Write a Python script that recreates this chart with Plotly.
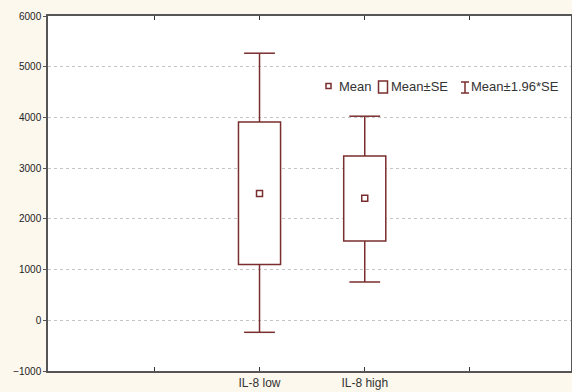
import plotly.graph_objects as go

# values
groups = ["IL-8 low", "IL-8 high"]
mean = [2500, 2405]
se_low = [1098, 1564]
se_high = [3911, 3241]
ci_low = [-237, 755]
ci_high = [5266, 4024]

categories = [" ", "IL-8 low", "IL-8 high", "  "]
y_ticks = [-1000, 0, 1000, 2000, 3000, 4000, 5000, 6000]

RED = "#7a2e2e"
W, H = 572, 392
L, R, T, B = 48, 1, 16, 21


def px(x):
    return (x - L) / (W - L - R)


def py(y):
    return (H - B - y) / (H - T - B)


fig = go.Figure()

# Mean +/- SE boxes
fig.add_trace(go.Bar(
    x=groups,
    y=[h - l for h, l in zip(se_high, se_low)],
    base=se_low,
    width=0.4,
    marker=dict(color="white", line=dict(color=RED, width=1.5)),
    showlegend=False,
))

# whiskers (Mean +/- 1.96*SE)
wx, wy = [], []
for g, lo, hi, a, b in zip(groups, se_low, se_high, ci_low, ci_high):
    wx += [g, g, None, g, g, None]
    wy += [hi, b, None, lo, a, None]
fig.add_trace(go.Scatter(x=wx, y=wy, mode="lines",
                         line=dict(color=RED, width=1.5), showlegend=False))
fig.add_trace(go.Scatter(
    x=groups + groups, y=ci_high + ci_low, mode="markers",
    marker=dict(symbol="line-ew", size=22, line=dict(color=RED, width=1.5)),
    showlegend=False,
))

# means
fig.add_trace(go.Scatter(
    x=groups, y=mean, mode="markers",
    marker=dict(symbol="square", size=6, color="white",
                line=dict(color=RED, width=1.5)),
    showlegend=False,
))

# hand-made legend
shapes = [
    dict(type="rect", xref="paper", yref="paper",
         x0=px(326), x1=px(331), y0=py(88.5), y1=py(83.5),
         line=dict(color=RED, width=1.5), fillcolor="white"),
    dict(type="rect", xref="paper", yref="paper",
         x0=px(378.5), x1=px(387.5), y0=py(93), y1=py(81),
         line=dict(color=RED, width=1.5), fillcolor="white"),
    dict(type="line", xref="paper", yref="paper",
         x0=px(465), x1=px(465), y0=py(93), y1=py(82),
         line=dict(color=RED, width=1.5)),
    dict(type="line", xref="paper", yref="paper",
         x0=px(461), x1=px(469), y0=py(82), y1=py(82),
         line=dict(color=RED, width=1.5)),
    dict(type="line", xref="paper", yref="paper",
         x0=px(461), x1=px(469), y0=py(93), y1=py(93),
         line=dict(color=RED, width=1.5)),
]
labels = [("Mean", 337), ("Mean±SE", 389), ("Mean±1.96*SE", 469)]
annotations = [
    dict(text=t, x=px(x0), y=py(86.5), xref="paper", yref="paper",
         xanchor="left", yanchor="middle", showarrow=False,
         font=dict(size=13, color="#333"))
    for t, x0 in labels
]

fig.update_layout(
    width=W, height=H,
    margin=dict(l=L, r=R, t=T, b=B, autoexpand=False),
    paper_bgcolor="#fcf8ee",
    plot_bgcolor="white",
    font=dict(family="Arial, Liberation Sans, sans-serif", color="#222"),
    shapes=shapes,
    annotations=annotations,
    showlegend=False,
)
fig.update_xaxes(
    type="category", categoryorder="array", categoryarray=categories,
    range=[-1.01, 3.96],
    ticks="inside", ticklen=4, tickcolor="#333",
    showline=True, linecolor="#555", linewidth=1.5, mirror="ticks",
    showgrid=False, tickfont=dict(size=12, color="#333"),
)
fig.update_yaxes(
    range=[-1000, 6000], tickvals=y_ticks,
    ticks="outside", ticklen=3, tickcolor="#555",
    showline=True, linecolor="#555", linewidth=1.5, mirror=True,
    showgrid=True, gridcolor="#c4c4c4", griddash="dot", gridwidth=1,
    zeroline=False, tickfont=dict(size=10, color="#222"),
)

fig.write_html("out.html", config={"displayModeBar": False},
               post_script="document.body.style.margin='0';")
